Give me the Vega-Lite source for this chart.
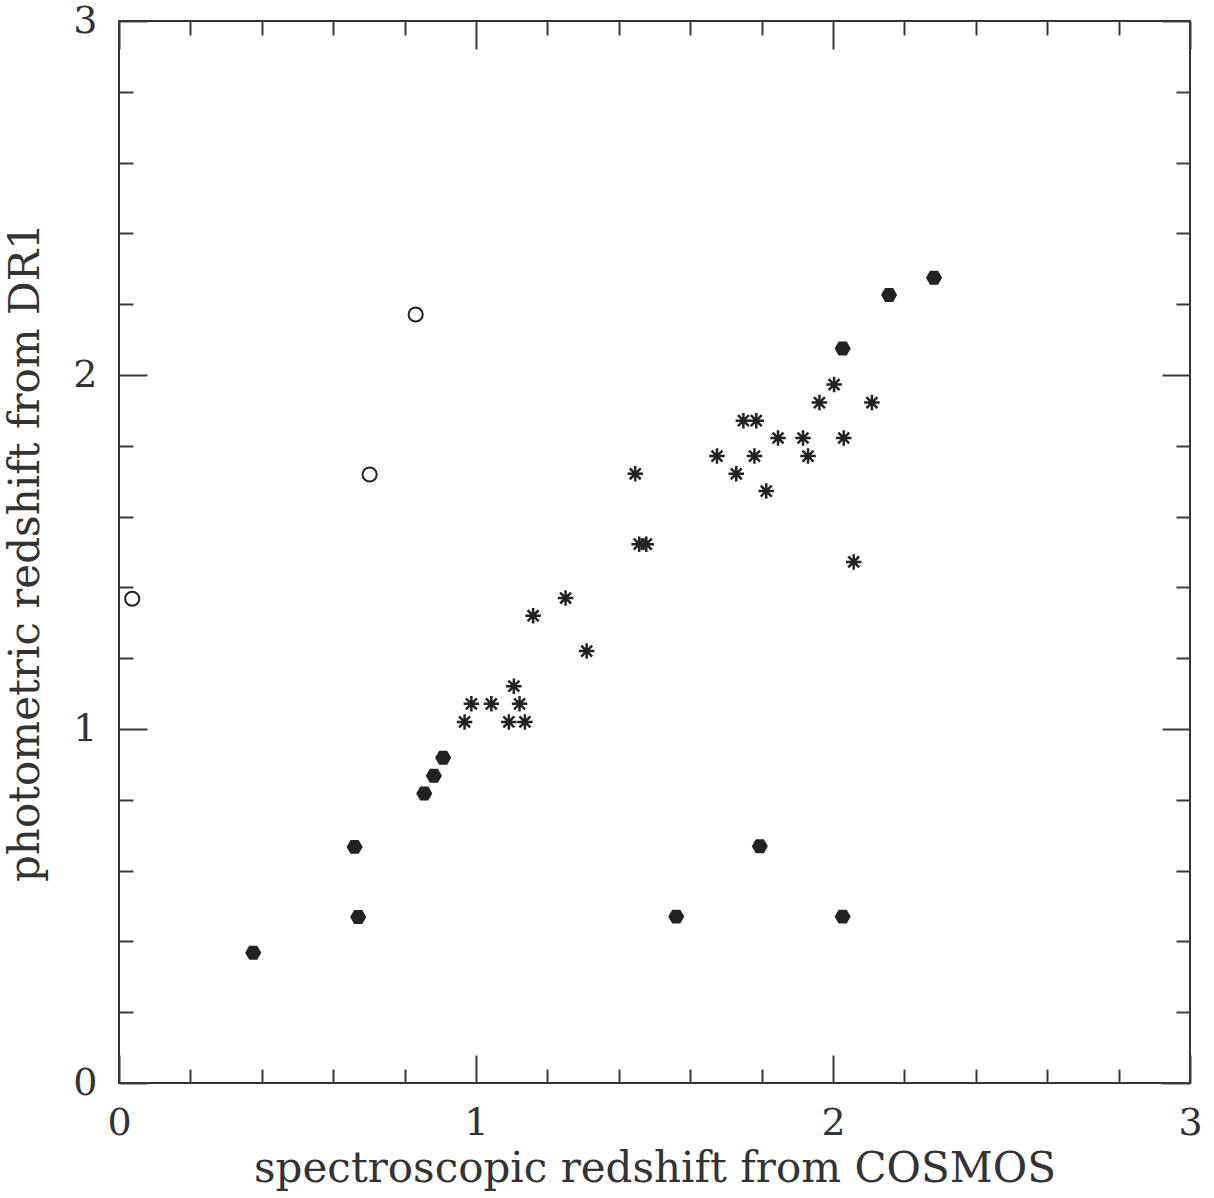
{
  "$schema": "https://vega.github.io/schema/vega-lite/v6.json",
  "width": 1071,
  "height": 1062,
  "autosize": "none",
  "padding": {"left": 119, "top": 21, "right": 24, "bottom": 115},
  "background": "white",
  "config": {
    "view": {"stroke": "#333333", "strokeWidth": 2},
    "axis": {"grid": false, "domain": false}
  },
  "datasets": {
    "open": [
      {"zspec": 0.037, "zphot": 1.368},
      {"zspec": 0.702, "zphot": 1.719},
      {"zspec": 0.831, "zphot": 2.171}
    ],
    "filled": [
      {"zspec": 0.376, "zphot": 0.368},
      {"zspec": 0.660, "zphot": 0.667},
      {"zspec": 0.670, "zphot": 0.469},
      {"zspec": 0.855, "zphot": 0.818},
      {"zspec": 0.882, "zphot": 0.868},
      {"zspec": 0.908, "zphot": 0.919},
      {"zspec": 1.561, "zphot": 0.470},
      {"zspec": 1.795, "zphot": 0.669},
      {"zspec": 2.027, "zphot": 0.470},
      {"zspec": 2.027, "zphot": 2.075},
      {"zspec": 2.157, "zphot": 2.226},
      {"zspec": 2.283, "zphot": 2.275}
    ],
    "star": [
      {"zspec": 0.968, "zphot": 1.020},
      {"zspec": 0.987, "zphot": 1.071},
      {"zspec": 1.043, "zphot": 1.071},
      {"zspec": 1.092, "zphot": 1.020},
      {"zspec": 1.106, "zphot": 1.121},
      {"zspec": 1.122, "zphot": 1.071},
      {"zspec": 1.137, "zphot": 1.020},
      {"zspec": 1.160, "zphot": 1.320},
      {"zspec": 1.251, "zphot": 1.370},
      {"zspec": 1.310, "zphot": 1.220},
      {"zspec": 1.446, "zphot": 1.721},
      {"zspec": 1.457, "zphot": 1.522},
      {"zspec": 1.477, "zphot": 1.522},
      {"zspec": 1.675, "zphot": 1.771},
      {"zspec": 1.729, "zphot": 1.721},
      {"zspec": 1.749, "zphot": 1.871},
      {"zspec": 1.780, "zphot": 1.771},
      {"zspec": 1.785, "zphot": 1.871},
      {"zspec": 1.813, "zphot": 1.672},
      {"zspec": 1.846, "zphot": 1.822},
      {"zspec": 1.916, "zphot": 1.822},
      {"zspec": 1.930, "zphot": 1.771},
      {"zspec": 1.962, "zphot": 1.922},
      {"zspec": 2.003, "zphot": 1.973},
      {"zspec": 2.030, "zphot": 1.822},
      {"zspec": 2.058, "zphot": 1.472},
      {"zspec": 2.109, "zphot": 1.922}
    ]
  },
  "resolve": {"axis": {"x": "independent", "y": "independent"}},
  "layer": [
    {
      "data": {"name": "open"},
      "mark": {"type": "point", "shape": "circle", "filled": false, "stroke": "#222222", "strokeWidth": 2, "size": 200, "opacity": 1},
      "encoding": {
        "x": {
          "field": "zspec", "type": "quantitative",
          "scale": {"domain": [0, 3], "nice": false, "zero": false},
          "axis": {
            "orient": "bottom",
            "values": [0, 0.2, 0.4, 0.6, 0.8, 1, 1.2, 1.4, 1.6, 1.8, 2, 2.2, 2.4, 2.6, 2.8, 3],
            "tickSize": {"condition": {"test": "abs(datum.value - round(datum.value)) < 0.001", "value": -28}, "value": -14},
            "tickWidth": 2,
            "tickColor": "#3a3a3a",
            "labelExpr": "abs(datum.value - round(datum.value)) < 0.001 ? format(datum.value, 'd') : ''",
            "labelFont": "DejaVu Serif",
            "labelFontSize": 38,
            "labelColor": "#333333",
            "labelPadding": 49,
            "labelFlush": false,
            "labelOverlap": false,
            "labelBound": false,
            "title": "spectroscopic redshift from COSMOS",
            "titleFont": "DejaVu Serif",
            "titleFontSize": 42,
            "titleFontWeight": "normal",
            "titleColor": "#333333",
            "titlePadding": -8
          }
        },
        "y": {
          "field": "zphot", "type": "quantitative",
          "scale": {"domain": [0, 3], "nice": false, "zero": false},
          "axis": {
            "orient": "left",
            "values": [0, 0.2, 0.4, 0.6, 0.8, 1, 1.2, 1.4, 1.6, 1.8, 2, 2.2, 2.4, 2.6, 2.8, 3],
            "tickSize": {"condition": {"test": "abs(datum.value - round(datum.value)) < 0.001", "value": -28}, "value": -14},
            "tickWidth": 2,
            "tickColor": "#3a3a3a",
            "labelExpr": "abs(datum.value - round(datum.value)) < 0.001 ? format(datum.value, 'd') : ''",
            "labelFont": "DejaVu Serif",
            "labelFontSize": 38,
            "labelColor": "#333333",
            "labelPadding": 50,
            "labelFlush": false,
            "labelOverlap": false,
            "labelBound": false,
            "title": "photometric redshift from DR1",
            "titleFont": "DejaVu Serif",
            "titleFontSize": 42,
            "titleFontWeight": "normal",
            "titleColor": "#333333",
            "titlePadding": 25
          }
        }
      }
    },
    {
      "data": {"name": "filled"},
      "mark": {"type": "point", "shape": "M-1,0L-0.5,-0.866L0.5,-0.866L1,0L0.5,0.866L-0.5,0.866Z", "filled": true, "fill": "#222222", "size": 260, "opacity": 1},
      "encoding": {
        "x": {
          "field": "zspec", "type": "quantitative",
          "scale": {"domain": [0, 3], "nice": false, "zero": false},
          "axis": {
            "orient": "top",
            "values": [0, 0.2, 0.4, 0.6, 0.8, 1, 1.2, 1.4, 1.6, 1.8, 2, 2.2, 2.4, 2.6, 2.8, 3],
            "tickSize": {"condition": {"test": "abs(datum.value - round(datum.value)) < 0.001", "value": -28}, "value": -14},
            "tickWidth": 2,
            "tickColor": "#3a3a3a",
            "labels": false,
            "title": null
          }
        },
        "y": {
          "field": "zphot", "type": "quantitative",
          "scale": {"domain": [0, 3], "nice": false, "zero": false},
          "axis": {
            "orient": "right",
            "values": [0, 0.2, 0.4, 0.6, 0.8, 1, 1.2, 1.4, 1.6, 1.8, 2, 2.2, 2.4, 2.6, 2.8, 3],
            "tickSize": {"condition": {"test": "abs(datum.value - round(datum.value)) < 0.001", "value": -28}, "value": -14},
            "tickWidth": 2,
            "tickColor": "#3a3a3a",
            "labels": false,
            "title": null
          }
        }
      }
    },
    {
      "data": {"name": "star"},
      "mark": {"type": "point", "shape": "M-1,0L1,0M0,-1L0,1M-0.707,-0.707L0.707,0.707M-0.707,0.707L0.707,-0.707", "filled": false, "stroke": "#222222", "strokeWidth": 2.5, "size": 240, "opacity": 1},
      "encoding": {
        "x": {"field": "zspec", "type": "quantitative", "scale": {"domain": [0, 3], "nice": false, "zero": false}, "axis": null},
        "y": {"field": "zphot", "type": "quantitative", "scale": {"domain": [0, 3], "nice": false, "zero": false}, "axis": null}
      }
    }
  ]
}
